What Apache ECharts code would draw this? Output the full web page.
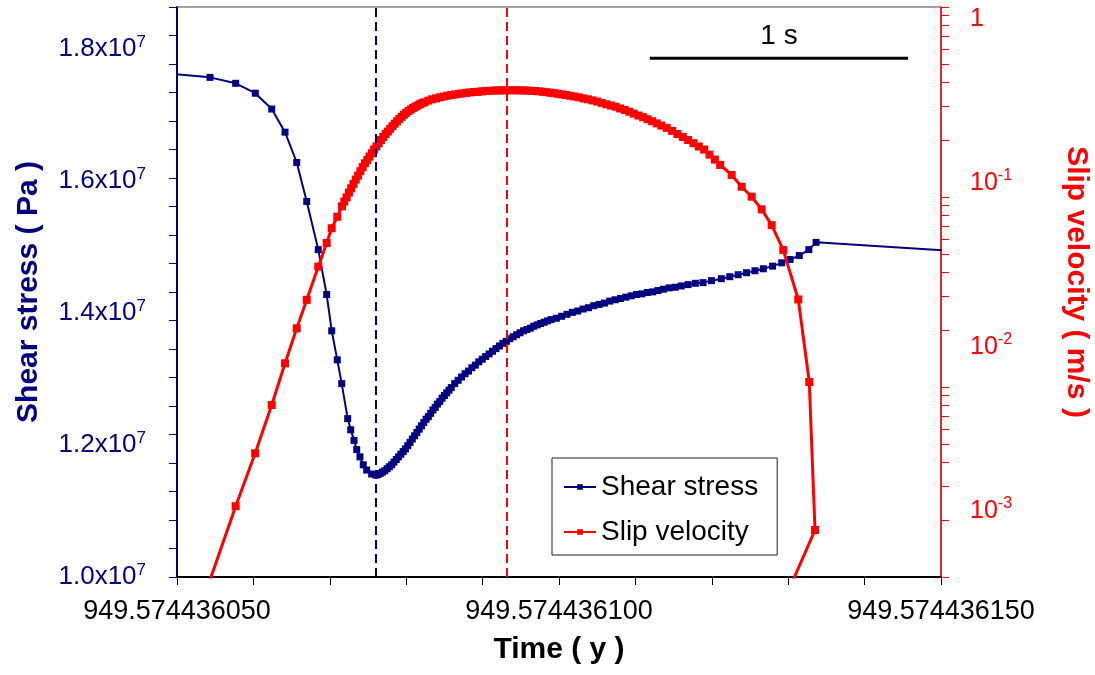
<!DOCTYPE html>
<html><head><meta charset="utf-8">
<script src="https://cdn.jsdelivr.net/npm/echarts@6/dist/echarts.min.js"></script>
<style>html,body{margin:0;padding:0;background:#fff}#c{width:1095px;height:675px}</style>
</head><body><div id="c"></div>
<script>
// Time axis values are in units of 1e-9 y after 949.574436 y
const timeShear = [49.5, 54.32, 57.68, 60.25, 62.40, 64.14, 65.67, 66.98, 68.49, 69.59, 70.25, 70.98, 71.56, 72.34, 72.74, 73.17, 73.52, 73.95, 74.38, 74.83, 75.48,
  76.0, 76.3, 76.6, 76.9, 77.2, 77.5, 77.8, 78.1, 78.4, 78.7, 79.0, 79.3, 79.6, 79.9, 80.2, 80.5, 80.8, 81.1, 81.4, 81.7, 82.0, 82.3, 82.6, 82.9, 83.2, 83.5, 83.8, 84.1, 84.4, 84.7, 85.0, 85.3, 85.6, 85.9,
  86.35, 86.8, 87.25, 87.7, 88.15, 88.6, 89.05, 89.5, 89.95, 90.4, 90.85, 91.3, 91.75, 92.2, 92.65, 93.1, 93.55, 94.0, 94.45, 94.9, 95.35, 95.8, 96.25, 96.7, 97.15, 97.6, 98.05, 98.5, 98.95,
  99.65, 100.35, 101.05, 101.75, 102.45, 103.15, 103.85, 104.55, 105.25, 105.95, 106.65, 107.35, 108.05, 108.75, 109.45, 110.15, 110.85, 111.55, 112.25, 112.95, 113.65, 114.4, 115.2, 116.0, 116.9, 117.85,
  118.85, 119.95, 121.25, 122.35, 123.45, 124.55, 125.65, 126.75, 127.95, 129.15, 130.25, 131.45, 132.7, 133.65, 151];
const shearStress = [1.762e7, 1.757e7, 1.748e7, 1.733e7, 1.709e7, 1.674e7, 1.628e7, 1.569e7, 1.496e7, 1.428e7, 1.373e7, 1.329e7, 1.293e7, 1.240e7, 1.223e7, 1.207e7, 1.193e7, 1.182e7, 1.170e7, 1.162e7, 1.156e7,
  1.1545e7, 1.155e7, 1.157e7, 1.159e7, 1.161e7, 1.164e7, 1.167e7, 1.170e7, 1.174e7, 1.178e7, 1.182e7, 1.186e7, 1.190e7, 1.194e7, 1.199e7, 1.204e7, 1.209e7, 1.214e7, 1.219e7, 1.224e7, 1.229e7, 1.234e7, 1.239e7, 1.243e7, 1.248e7, 1.253e7, 1.257e7, 1.262e7, 1.266e7, 1.271e7, 1.275e7, 1.279e7, 1.283e7, 1.287e7,
  1.293e7, 1.298e7, 1.303e7, 1.308e7, 1.312e7, 1.317e7, 1.321e7, 1.326e7, 1.330e7, 1.334e7, 1.338e7, 1.342e7, 1.346e7, 1.350e7, 1.354e7, 1.357e7, 1.361e7, 1.364e7, 1.367e7, 1.370e7, 1.373e7, 1.375e7, 1.377e7, 1.380e7, 1.382e7, 1.384e7, 1.386e7, 1.388e7, 1.390e7,
  1.392e7, 1.395e7, 1.398e7, 1.401e7, 1.403e7, 1.406e7, 1.408e7, 1.411e7, 1.413e7, 1.415e7, 1.418e7, 1.420e7, 1.422e7, 1.424e7, 1.426e7, 1.428e7, 1.429e7, 1.431e7, 1.432e7, 1.434e7, 1.436e7, 1.438e7, 1.439e7, 1.441e7, 1.443e7, 1.445e7,
  1.446e7, 1.449e7, 1.452e7, 1.455e7, 1.458e7, 1.461e7, 1.464e7, 1.467e7, 1.471e7, 1.476e7, 1.481e7, 1.487e7, 1.496e7, 1.507e7, 1.4945e7];

const timeSlip = [54.32, 57.68, 60.23, 62.40, 64.14, 65.67, 66.98, 68.49, 69.59, 70.25, 70.98,
  71.6, 71.9, 72.2, 72.5, 72.8, 73.1, 73.4, 73.7, 74.0, 74.3, 74.6, 74.9, 75.2, 75.5, 75.8, 76.1, 76.4, 76.7, 77.0, 77.3, 77.6, 77.9, 78.2, 78.5, 78.8, 79.1, 79.4, 79.7, 80.0, 80.3, 80.6, 80.9, 81.2, 81.5, 81.8, 82.1, 82.4,
  82.9, 83.4, 83.9, 84.4, 84.9, 85.4, 85.9, 86.4, 86.9, 87.4, 87.9, 88.4, 88.9, 89.4, 89.9, 90.4, 90.9, 91.4, 91.9, 92.4, 92.9, 93.4, 93.9, 94.4, 94.9, 95.4, 95.9, 96.4, 96.9, 97.4, 97.9, 98.4, 98.9, 99.4, 99.9, 100.4, 100.9, 101.4,
  102.0, 102.6, 103.2, 103.8, 104.4, 105.0, 105.6, 106.2, 106.8, 107.4, 108.0, 108.6, 109.2, 109.8, 110.4, 111.0, 111.6, 112.2, 112.8, 113.4,
  114.1, 114.8, 115.5, 116.2, 116.9, 117.6, 118.3, 119.0, 119.7, 120.4, 121.1,
  122.60, 123.91, 125.22, 126.53, 127.84, 129.36, 131.32, 132.76, 133.51, 128.93];
const slipVelocity = [3.8e-4, 1.07e-3, 2.25e-3, 4.43e-3, 7.96e-3, 0.0130, 0.0194, 0.0309, 0.0431, 0.0530, 0.0623,
  0.0721, 0.0771, 0.0818, 0.0874, 0.0929, 0.0988, 0.105, 0.111, 0.118, 0.125, 0.132, 0.138, 0.145, 0.152, 0.160, 0.167, 0.175, 0.183, 0.191, 0.199, 0.206, 0.214, 0.222, 0.230, 0.238, 0.246, 0.253, 0.261, 0.268, 0.275, 0.281, 0.287, 0.292, 0.297, 0.302, 0.307, 0.311,
  0.318, 0.324, 0.328, 0.333, 0.337, 0.341, 0.344, 0.347, 0.350, 0.352, 0.355, 0.357, 0.359, 0.360, 0.362, 0.364, 0.365, 0.366, 0.367, 0.367, 0.368, 0.368, 0.368, 0.368, 0.367, 0.367, 0.366, 0.365, 0.364, 0.362, 0.360, 0.358, 0.355, 0.353, 0.350, 0.347, 0.344, 0.341,
  0.337, 0.333, 0.328, 0.324, 0.319, 0.314, 0.308, 0.302, 0.297, 0.292, 0.285, 0.279, 0.272, 0.265, 0.258, 0.252, 0.245, 0.238, 0.231, 0.224,
  0.217, 0.208, 0.199, 0.191, 0.183, 0.175, 0.167, 0.160, 0.149, 0.139, 0.129,
  0.112, 0.0949, 0.0825, 0.0691, 0.0554, 0.0390, 0.0195, 0.00612, 0.000766, 0.000249];

const seriesNames = ['Shear stress', 'Slip velocity'];
const xLabelValues = [50, 100, 150];
const shearLabelValues = [1.0e7, 1.2e7, 1.4e7, 1.6e7, 1.8e7];
const slipLabelValues = [0.001, 0.01, 0.1, 1];
const slipTickValues = [0.001, 0.002, 0.003, 0.004, 0.005, 0.006, 0.007, 0.008, 0.009,
  0.01, 0.02, 0.03, 0.04, 0.05, 0.06, 0.07, 0.08, 0.09,
  0.1, 0.2, 0.3, 0.4, 0.5, 0.6, 0.7, 0.8, 0.9, 1];
const shearDashTime = 76.0;
const slipDashTime = 93.15;
const scaleBarTime = [111.9, 145.7];
const scaleBarLevel = 1.786e7;
const scaleBarText = '1 s';

const NAVY = '#000080', RED = '#ff0000', FONT = "'Liberation Sans', Arial, sans-serif";
const chart = echarts.init(document.getElementById('c'), null, {renderer: 'canvas'});
const option = {
  animation: false,
  backgroundColor: '#fff',
  textStyle: {fontFamily: FONT},
  grid: {left: 177, right: 154, top: 7, bottom: 98, show: true, borderColor: '#444', borderWidth: 1, backgroundColor: 'transparent', outerBoundsMode: 'none', containLabel: false},
  legend: {
    data: seriesNames, orient: 'vertical', left: 552, top: 458,
    itemWidth: 32, itemHeight: 7, itemGap: 15, padding: [14, 19, 8, 11],
    borderColor: '#222', borderWidth: 1, backgroundColor: '#fff',
    textStyle: {fontSize: 28, color: '#000', fontFamily: FONT, lineHeight: 30}
  },
  xAxis: {
    type: 'value', min: 50, max: 150, interval: 10, position: 'bottom',
    axisLine: {show: true, onZero: false, lineStyle: {color: '#000', width: 2}},
    axisTick: {show: true, inside: false, length: 8, lineStyle: {color: '#000', width: 1}},
    axisLabel: {customValues: xLabelValues, margin: 21, fontSize: 27, color: '#000', fontFamily: FONT,
      formatter: v => '949.574436' + String(Math.round(v)).padStart(3, '0')},
    splitLine: {show: false}, minorTick: {show: false},
    name: 'Time ( y )', nameLocation: 'middle', nameGap: 58,
    nameTextStyle: {fontSize: 30, fontWeight: 'bold', color: '#000', fontFamily: FONT}
  },
  yAxis: [
    {
      type: 'value', min: 1.0e7, max: 1.8636e7, position: 'left',
      axisLine: {show: false}, axisTick: {show: false}, splitLine: {show: false},
      axisLabel: {customValues: shearLabelValues, margin: 31, color: NAVY,
        formatter: v => '{b|' + (v / 1e7).toFixed(1) + 'x10}{s|7}',
        rich: {b: {fontSize: 26, color: NAVY, fontFamily: FONT, lineHeight: 30},
               s: {fontSize: 17, color: NAVY, fontFamily: FONT, verticalAlign: 'top', lineHeight: 17}}},
      name: 'Shear stress ( Pa )', nameLocation: 'middle', nameRotate: 90, nameGap: 133,
      nameTextStyle: {fontSize: 30, fontWeight: 'bold', color: NAVY, fontFamily: FONT}
    },
    {
      type: 'log', logBase: 10, min: 3.96e-4, max: 1.184, position: 'right',
      axisLine: {show: false}, axisTick: {show: false}, splitLine: {show: false}, minorTick: {show: false},
      axisLabel: {customValues: slipLabelValues, margin: 29, color: RED,
        formatter: v => v > 0.5 ? '{b|1}' : '{b|10}{s|' + Math.round(Math.log10(v)) + '}',
        rich: {b: {fontSize: 25, color: RED, fontFamily: FONT, lineHeight: 30},
               s: {fontSize: 16, color: RED, fontFamily: FONT, verticalAlign: 'top', lineHeight: 16}}},
      name: 'Slip velocity ( m/s )', nameLocation: 'middle', nameRotate: -90, nameGap: 120,
      nameTextStyle: {fontSize: 30, fontWeight: 'bold', color: RED, fontFamily: FONT, padding: [0, 20, 0, 0]}
    },
    {
      type: 'value', min: 1.0e7, max: 1.8e7, interval: 0.04e7, position: 'left',
      axisLine: {show: true, lineStyle: {color: NAVY, width: 2}},
      axisTick: {show: true, inside: false, length: 8, lineStyle: {color: NAVY, width: 1}},
      axisLabel: {show: false}, splitLine: {show: false}
    },
    {
      type: 'log', logBase: 10, min: 0.001, max: 1, position: 'right',
      axisLine: {show: true, lineStyle: {color: RED, width: 1.5}},
      axisTick: {show: true, inside: false, length: 8, customValues: slipTickValues, lineStyle: {color: RED, width: 1}},
      axisLabel: {show: false}, splitLine: {show: false}, minorTick: {show: false}
    }
  ],
  series: [
    {
      name: seriesNames[0], type: 'line', xAxisIndex: 0, yAxisIndex: 0, z: 2, clip: true,
      data: timeShear.map((t, i) => [t, shearStress[i]]),
      symbol: 'rect', symbolSize: 7, showSymbol: true,
      itemStyle: {color: NAVY}, lineStyle: {color: NAVY, width: 2},
      markLine: {silent: true, symbol: ['none', 'none'], label: {show: false},
        lineStyle: {color: NAVY, type: [9, 5], width: 2}, data: [{xAxis: shearDashTime}]}
    },
    {
      name: seriesNames[1], type: 'line', xAxisIndex: 0, yAxisIndex: 1, z: 3, clip: true,
      data: timeSlip.map((t, i) => [t, slipVelocity[i]]),
      symbol: 'rect', symbolSize: 8, showSymbol: true,
      itemStyle: {color: RED}, lineStyle: {color: RED, width: 3},
      markLine: {silent: true, symbol: ['none', 'none'], label: {show: false},
        lineStyle: {color: RED, type: [9, 5], width: 2}, data: [{xAxis: slipDashTime}]}
    },
    {
      name: 'scale bar', type: 'line', xAxisIndex: 0, yAxisIndex: 0, z: 4,
      data: scaleBarTime.map(t => [t, scaleBarLevel]), symbol: 'none',
      lineStyle: {color: '#000', width: 3}, silent: true,
      markPoint: {silent: true, symbol: 'rect', symbolSize: 0,
        data: [{coord: [(scaleBarTime[0] + scaleBarTime[1]) / 2, scaleBarLevel]}],
        label: {show: true, formatter: scaleBarText, offset: [0, -22], fontSize: 28, color: '#000', fontFamily: FONT}}
    }
  ]
};
chart.setOption(option);
</script>
</body></html>
